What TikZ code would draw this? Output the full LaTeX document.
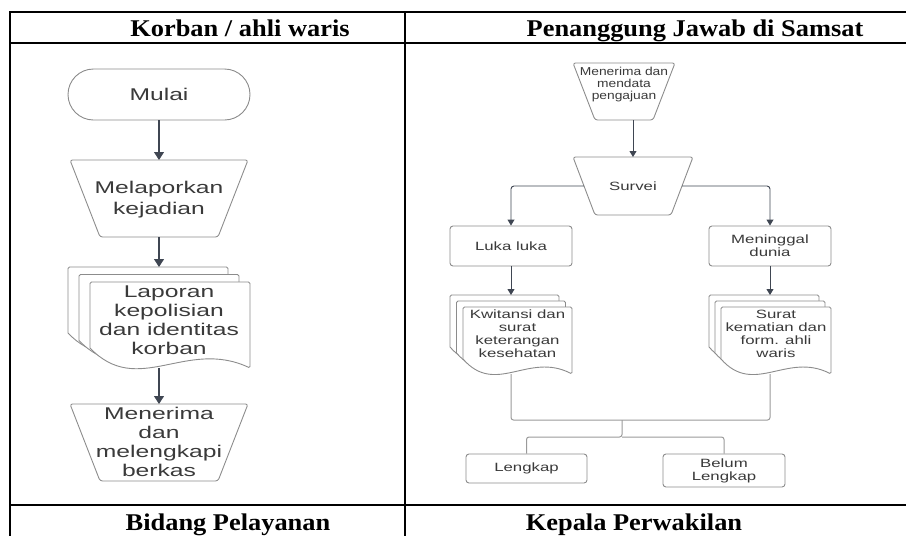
\documentclass[tikz,border=0pt]{standalone}
\usepackage{fontspec}
\setmainfont{Liberation Serif}
\newfontfamily\headfont[FakeStretch=1.1]{Liberation Serif}
\newfontfamily\flowL[FakeStretch=1.45]{Liberation Sans}
\newfontfamily\flowR[FakeStretch=1.4]{Liberation Sans}
\newfontfamily\flowRs[FakeStretch=1.2]{Liberation Sans}
\usetikzlibrary{arrows.meta,calc}
\definecolor{shapeln}{HTML}{8C8C8C}
\definecolor{arrln}{HTML}{3F4652}
\definecolor{txt}{HTML}{3A3A3A}
\definecolor{joinln}{HTML}{9A9A9A}
\newcommand{\trapez}[2]{\draw[shp, fill=none, rounded corners=2.5pt] (#1.north west) -- (#1.north east) -- ([xshift=-#2pt]#1.south east) -- ([xshift=#2pt]#1.south west) -- cycle;}
\newcommand{\docsheet}[5]{\draw[shp, rounded corners=1.5pt] (#1,#2+#4-#5) -- (#1,#2) -- (#1+#3,#2) -- (#1+#3,#2+#4) [sharp corners] .. controls (#1+0.6*#3,#2+#4-1.5*#5) and (#1+0.3*#3,#2+#4+1.5*#5) .. (#1,#2+#4-#5) -- cycle;}
\begin{document}
\begin{tikzpicture}[x=1pt,y=-1pt,
  grid/.style={line width=2.4pt, black},
  head/.style={font=\headfont\bfseries\fontsize{24}{28}\selectfont, anchor=base, inner sep=0pt},
  frame/.style={inner sep=0pt, outer sep=0pt},
  ltext/.style={text=txt, align=center, font=\flowL\fontsize{17}{21}\selectfont},
  rtext/.style={text=txt, align=center, font=\flowR\fontsize{12}{12.8}\selectfont},
  shp/.style={draw=shapeln, line width=0.9pt, fill=white},
  arrL/.style={draw=arrln, line width=1.1pt, -{Triangle[width=10pt,length=8pt]}},
  arrR/.style={draw=arrln, line width=0.9pt, -{Triangle[width=7pt,length=6pt]}},
  joinR/.style={draw=joinln, line width=1pt, rounded corners=2.5pt},
]
\useasboundingbox (0,0) rectangle (906,536);
% table
\draw[grid] (906,12) -- (10,12) -- (10,536);
\draw[grid] (10,43) -- (906,43);
\draw[grid] (10,505) -- (906,505);
\draw[grid] (405,12) -- (405,536);
\node[head] (h1) at (240,36) {Korban / ahli waris};
\node[head] (h2) at (695,36) {Penanggung Jawab di Samsat};
\node[head] (h3) at (228,530) {Bidang Pelayanan};
\node[head] (h4) at (634,530) {Kepala Perwakilan};

% ---------- left column ----------
\node[frame, shp, ltext, rounded corners=25.5pt, minimum width=182pt, minimum height=51pt] (mulai) at (159,94.5) {Mulai};
\node[frame, minimum width=178pt, minimum height=77pt] (melapor) at (159,198.5) {};
\trapez{melapor}{30}
\node[ltext] (melapor-t) at (159,199.5) {Melaporkan\\kejadian};
\node[frame, minimum width=182pt, minimum height=101pt] (lapor) at (159,317.5) {};
\docsheet{68}{267}{160}{86}{20}
\docsheet{79}{274.5}{160}{86}{20}
\docsheet{90}{282}{160}{86}{20}
\node[ltext, font=\flowL\fontsize{17}{19}\selectfont] (lapor-t) at (169,320) {Laporan\\kepolisian\\dan identitas\\korban};
\node[frame, minimum width=178pt, minimum height=77pt] (menerima) at (159,442.5) {};
\trapez{menerima}{30}
\node[ltext, font=\flowL\fontsize{17}{19}\selectfont] (menerima-t) at (159,442) {Menerima\\dan\\melengkapi\\berkas};

\draw[arrL] (mulai.south) -- (melapor.north);
\draw[arrL] (melapor.south) -- (lapor.north);
\draw[arrL] (lapor.south) -- (menerima.north);

% ---------- right column ----------
\node[frame, minimum width=102pt, minimum height=57pt] (mdata) at (624,91.5) {};
\trapez{mdata}{22}
\node[rtext, font=\flowRs\fontsize{11.5}{11.8}\selectfont] (mdata-t) at (624,84.5) {Menerima dan\\mendata\\pengajuan};
\node[frame, rtext, minimum width=120pt, minimum height=58pt] (survei) at (633,186) {Survei};
\trapez{survei}{22}
\node[shp, rtext, rounded corners=3pt, inner sep=0pt, minimum width=122pt, minimum height=40pt] (luka) at (511,246) {Luka luka};
\node[shp, rtext, rounded corners=3pt, inner sep=0pt, minimum width=122pt, minimum height=40pt] (mening) at (770,246) {Meninggal\\dunia};

\node[frame, minimum width=122pt, minimum height=79pt] (kwi) at (511,334.5) {};
\docsheet{450}{295}{109}{67}{15}
\docsheet{456.5}{301}{109}{67}{15}
\docsheet{463}{307}{109}{67}{15}
\node[rtext] (kwi-t) at (517.5,333.8) {Kwitansi dan\\surat\\keterangan\\kesehatan};
\node[frame, minimum width=122pt, minimum height=79pt] (surat) at (770,334.5) {};
\docsheet{709}{295}{110}{67}{15}
\docsheet{715}{301}{110}{67}{15}
\docsheet{721}{307}{110}{67}{15}
\node[rtext] (surat-t) at (776,333.8) {Surat\\kematian dan\\form. ahli\\waris};

\node[shp, rtext, rounded corners=3pt, inner sep=0pt, minimum width=121pt, minimum height=29pt] (lengkap) at (526.5,468.5) {Lengkap};
\node[shp, rtext, rounded corners=3pt, inner sep=0pt, minimum width=122pt, minimum height=33pt] (belum) at (724,470.5) {Belum\\Lengkap};

\draw[arrR] (mdata.south -| survei.north) -- (survei.north);
\draw[arrR, rounded corners=3pt] ([xshift=11pt]survei.west) -| (luka.north);
\draw[arrR, rounded corners=3pt] ([xshift=-11pt]survei.east) -| (mening.north);
\draw[arrR] (luka.south) -- (kwi.north);
\draw[arrR] (mening.south) -- (surat.north);

\coordinate (jn) at (622,420);
\coordinate (sp) at (622,437);
\draw[joinR] (kwi.south) |- (jn) -| (surat.south);
\draw[joinR] (jn) -- (sp) -| (lengkap.north);
\draw[joinR] (sp) -| (belum.north);
\end{tikzpicture}
\end{document}
